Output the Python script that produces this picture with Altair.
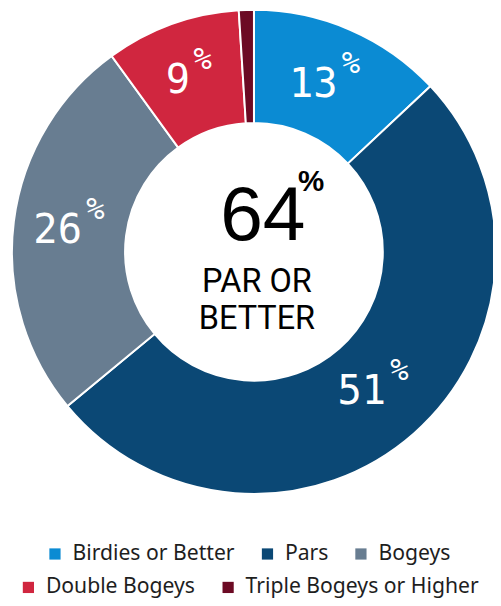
import altair as alt
import pandas as pd

categories = ["Birdies or Better", "Pars", "Bogeys", "Double Bogeys", "Triple Bogeys or Higher"]
values = [13, 51, 26, 9, 1]
labels = ["13", "51", "26", "9", ""]
colors = ["#0b8bd3", "#0b4875", "#687d91", "#d0263f", "#6c0a24"]
legend_row1 = categories[:3]
legend_row2 = categories[3:]
center_big = ["64"]
center_small = ["PAR OR", "BETTER"]

df = pd.DataFrame({"category": categories, "value": values, "label": labels,
                   "idx": list(range(len(categories)))})
df["pct_two"] = ["%" if len(l) == 2 else "" for l in labels]
df["pct_one"] = ["%" if len(l) == 1 else "" for l in labels]

W, H = 493, 590
cx, cy = 250, 243
R_OUT, R_IN, R_LAB = 246, 131, 187

base = alt.Chart(df).encode(
    theta=alt.Theta("value:Q", stack=True),
    order=alt.Order("idx:Q"),
    x=alt.value(cx),
    y=alt.value(cy),
)

leg_common = dict(title=None, orient="none", direction="horizontal", padding=0,
                  symbolType="square", symbolSize=130, symbolStrokeWidth=0,
                  labelFont="Noto Sans", labelFontSize=21.5, labelColor="#1e1e1e",
                  labelLimit=400, columnPadding=22, labelOffset=7)

arcs = base.mark_arc(outerRadius=R_OUT, innerRadius=R_IN, stroke="white", strokeWidth=2).encode(
    color=alt.Color("category:N",
                    scale=alt.Scale(domain=categories, range=colors),
                    legend=alt.Legend(values=legend_row1, legendX=37, legendY=539, **leg_common)),
)
arcs2 = base.mark_arc(outerRadius=R_OUT, innerRadius=R_IN, stroke="white", strokeWidth=2).encode(
    fill=alt.Fill("category:N",
                  scale=alt.Scale(domain=categories, range=colors),
                  legend=alt.Legend(values=legend_row2, legendX=10, legendY=573, **leg_common)),
)

nums = base.mark_text(radius=R_LAB, align="center", dx=-14, dy=2, baseline="middle",
                      font="DejaVu Sans Mono", fontSize=41, color="white").encode(
    text="label:N")
pct2 = base.mark_text(radius=R_LAB, align="left", dx=15, dy=-19, baseline="middle",
                      font="DejaVu Sans Mono", fontSize=31, color="white").encode(
    text="pct_two:N")
pct1 = base.mark_text(radius=R_LAB, align="left", dx=2, dy=-19, baseline="middle",
                      font="DejaVu Sans Mono", fontSize=31, color="white").encode(
    text="pct_one:N")

big = alt.Chart(pd.DataFrame({"t": center_big})).mark_text(
    font="Liberation Sans", fontSize=78, color="black",
    baseline="alphabetic", dx=9, dy=-12).encode(
    text="t:N", x=alt.value(cx), y=alt.value(cy))
bigp = alt.Chart(pd.DataFrame({"t": ["%"]})).mark_text(
    font="Liberation Sans", fontSize=30, fontWeight="bold", color="black",
    baseline="alphabetic", dx=58, dy=-62).encode(
    text="t:N", x=alt.value(cx), y=alt.value(cy))

small = alt.Chart(pd.DataFrame({"t": center_small, "i": [0, 1]})).mark_text(
    font="Roboto", fontSize=33, color="black", baseline="alphabetic", dx=3).encode(
    text="t:N",
    x=alt.value(cx),
    y=alt.Y("i:O", axis=None,
            scale=alt.Scale(range=[cy + 41, cy + 78], paddingOuter=0, paddingInner=0, padding=0)),
)

chart = alt.layer(arcs, arcs2, nums, pct2, pct1, big, bigp, small).properties(
    width=W, height=H, padding=0, autosize=alt.AutoSizeParams(type="none")
).resolve_scale(color="independent").configure_view(stroke=None)

chart.save("out.html", embed_options={"renderer": "svg", "actions": False})
